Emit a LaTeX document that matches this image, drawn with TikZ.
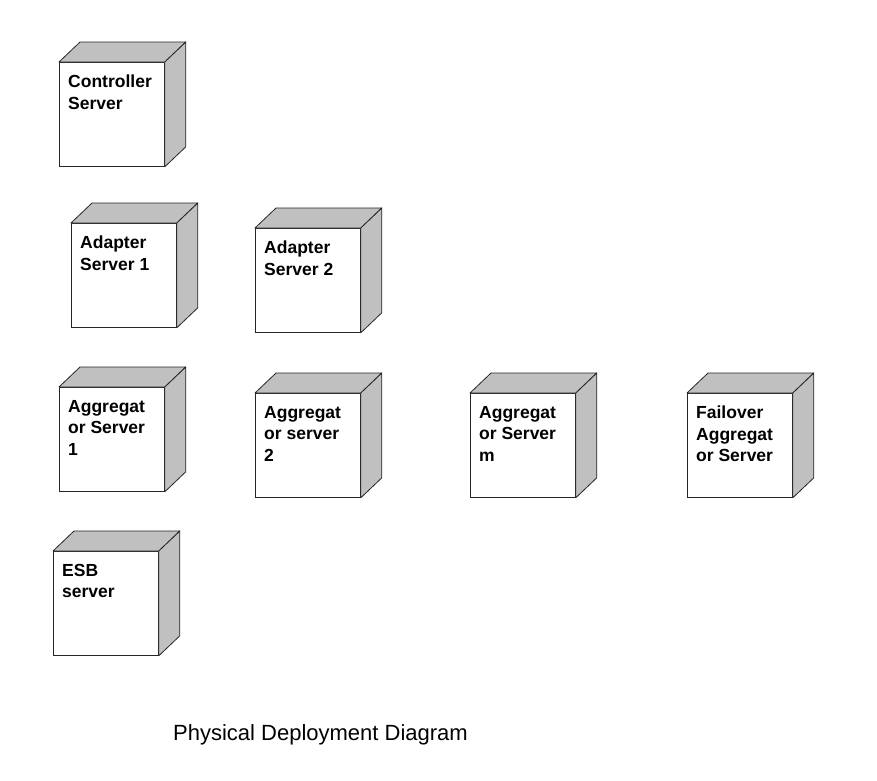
\documentclass[tikz,border=0pt]{standalone}
\usepackage{fontspec}
\setmainfont{Liberation Sans}
\usetikzlibrary{positioning}
\definecolor{sidegray}{RGB}{192,192,192}
\tikzset{dev node/.style={rectangle,draw=black!85,fill=white,line width=0.8pt,
            minimum width=105pt,minimum height=104pt,inner sep=0pt,anchor=north west},
         dev label/.style={inner sep=0pt,align=left,font=\fontsize{17.5}{21.5}\selectfont\bfseries},
         dev side/.style={draw=black!85,fill=sidegray,line width=0.8pt,line join=round},
            }

\begin{document}
\begin{tikzpicture}[x=1pt,y=-1pt]
    \useasboundingbox (0,0) rectangle (877,780);

    \node[dev node] (ctrl) at (59,62)  {};
    \node[dev node] (ad1)  at (71,223) {};
    \node[dev node] (ad2)  at (255,228) {};
    \node[dev node] (ag1)  at (59,387) {};
    \node[dev node] (ag2)  at (255,393) {};
    \node[dev node] (agm)  at (470,393) {};
    \node[dev node] (fail) at (687,393) {};
    \node[dev node] (esb)  at (53,551) {};

    \foreach \n in {ctrl,ad1,ad2,ag1,ag2,agm,fail,esb} {
        \draw[dev side] (\n.north west) -- ++(21pt,20pt)
            -- ([shift={(21pt,20pt)}]\n.north east) -- (\n.north east) -- cycle;
        \draw[dev side] (\n.north east) -- ++(21pt,20pt)
            -- ([shift={(21pt,20pt)}]\n.south east) -- (\n.south east) -- cycle;
    }

    \node[dev label] (ctrl text) [below right = 13pt and 9pt of ctrl.north west] {Controller\\Server};
    \node[dev label] (ad1 text) [below right = 13pt and 9pt of ad1.north west] {Adapter\\Server 1};
    \node[dev label] (ad2 text) [below right = 13pt and 9pt of ad2.north west] {Adapter\\Server 2};
    \node[dev label] (ag1 text) [below right = 13pt and 9pt of ag1.north west] {Aggregat\\or Server\\1};
    \node[dev label] (ag2 text) [below right = 13pt and 9pt of ag2.north west] {Aggregat\\or server\\2};
    \node[dev label] (agm text) [below right = 13pt and 9pt of agm.north west] {Aggregat\\or Server\\m};
    \node[dev label] (fail text) [below right = 13pt and 9pt of fail.north west] {Failover\\Aggregat\\or Server};
    \node[dev label] (esb text) [below right = 13pt and 9pt of esb.north west] {ESB\\server};

    \node[anchor=base west,inner sep=0pt,font=\fontsize{22}{26}\selectfont] (title) at (173,740) {Physical Deployment Diagram};
\end{tikzpicture}
\end{document}
